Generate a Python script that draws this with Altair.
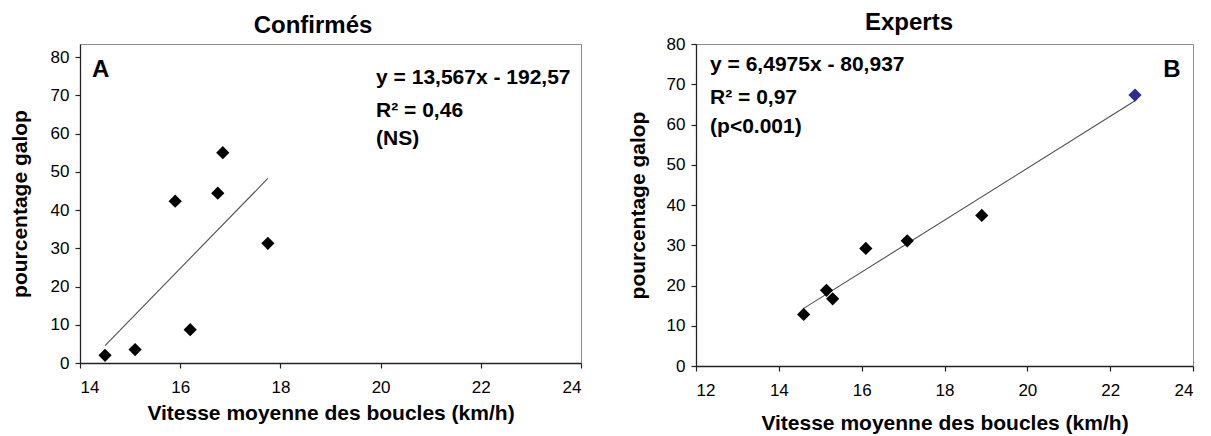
import altair as alt
import pandas as pd

# ---- data ----
conf_speed = [14.5, 15.1, 15.9, 16.2, 16.75, 16.85, 17.75]
conf_gallop = [2.0, 3.5, 42.3, 8.7, 44.4, 55.0, 31.3]

exp_speed = [14.6, 15.15, 15.3, 16.1, 17.1, 18.9, 22.6]
exp_gallop = [12.8, 18.8, 16.7, 29.2, 31.1, 37.4, 67.3]
exp_highlight = [False, False, False, False, False, False, True]

conf_ticks_x = [14, 16, 18, 20, 22, 24]
exp_ticks_x = [12, 14, 16, 18, 20, 22, 24]
ticks_y = [0, 10, 20, 30, 40, 50, 60, 70, 80]

conf_notes = ["y = 13,567x - 192,57", "R² = 0,46", "(NS)"]
exp_notes = ["y = 6,4975x - 80,937", "R² = 0,97", "(p<0.001)"]

x_title = "Vitesse moyenne des boucles (km/h)"
y_title = "pourcentage galop"

FONT = "Liberation Sans"
BLACK = "#000000"
BLUE = "#2d2d8f"


def panel(speed, gallop, colors, xdom, xticks, ydom, w, h, title, title_x,
          title_y, xtitle_y, ytitle_x, notes, note_x, note_y,
          letter, letter_x, letter_y, letter_align):
    df = pd.DataFrame({"speed": speed, "gallop": gallop, "c": colors})
    xs = alt.Scale(domain=xdom, nice=False, zero=False)
    ys = alt.Scale(domain=ydom, nice=False, zero=False)
    xax = alt.Axis(values=xticks, title=x_title, titleX=w / 2, titleY=xtitle_y,
                   titleBaseline="middle", labelPadding=11, grid=False,
                   labelOverlap=False, tickCount=len(xticks))
    yax = alt.Axis(values=ticks_y, title=y_title, titleX=ytitle_x, titleY=h / 2,
                   titleBaseline="middle", titleAngle=270, labelPadding=6,
                   grid=False, labelOverlap=False, tickCount=len(ticks_y))
    X = alt.X("speed:Q", scale=xs, axis=xax)
    Y = alt.Y("gallop:Q", scale=ys, axis=yax)

    reg = alt.Chart(df).transform_regression("speed", "gallop").mark_line(
        color="#505050", strokeWidth=1.1).encode(x=X, y=Y)
    pts = alt.Chart(df).mark_point(shape="diamond", filled=True, size=175,
                                   opacity=1).encode(
        x=X, y=Y, color=alt.Color("c:N", scale=None))
    ndf = pd.DataFrame({"speed": [note_x] * len(notes), "gallop": note_y,
                        "t": notes})
    txt = alt.Chart(ndf).mark_text(align="left", baseline="middle", font=FONT,
                                   fontSize=21, fontWeight="bold",
                                   color=BLACK).encode(x=X, y=Y, text="t:N")
    ldf = pd.DataFrame({"speed": [letter_x], "gallop": [letter_y], "t": [letter]})
    let = alt.Chart(ldf).mark_text(align=letter_align, baseline="middle",
                                   font=FONT, fontSize=24, fontWeight="bold",
                                   color=BLACK).encode(x=X, y=Y, text="t:N")
    tdf = pd.DataFrame({"t": [title]})
    ttl = alt.Chart(tdf).mark_text(align="center", baseline="middle", font=FONT,
                                   fontSize=24, fontWeight="bold",
                                   color=BLACK).encode(
        x=alt.value(title_x), y=alt.value(title_y), text="t:N")
    return alt.layer(reg, pts, txt, let, ttl).properties(width=w, height=h)


left = panel(conf_speed, conf_gallop, [BLACK] * len(conf_speed),
             [14, 24], conf_ticks_x, [0, 83.4], 501, 319,
             "Confirmés", 233, -18, 50, -60,
             conf_notes, 19.91, [74.5, 65.9, 58.6],
             "A", 14.24, 76.6, "left")

right = panel(exp_speed, exp_gallop,
              [BLUE if h else BLACK for h in exp_highlight],
              [12, 24], exp_ticks_x, [0, 80], 497, 322,
              "Experts", 213, -21.5, 57, -58,
              exp_notes, 12.34, [74.8, 66.6, 59.4],
              "B", 23.49, 73.5, "center")

chart = alt.hconcat(left, right, spacing=115, bounds="flush").configure_view(
    stroke="#8c8c8c", strokeWidth=1
).configure_axis(
    labelFont=FONT, labelFontSize=17, labelColor=BLACK,
    titleFont=FONT, titleFontSize=21, titleFontWeight="bold", titleColor=BLACK,
    domainColor="#222222", domainWidth=1.3, tickColor="#222222", tickSize=5,
    tickWidth=1.2,
).properties(background="white",
             padding={"left": 0, "top": 2, "right": 5, "bottom": 5})

chart.save("out.html", embed_options={"renderer": "svg", "actions": False})
